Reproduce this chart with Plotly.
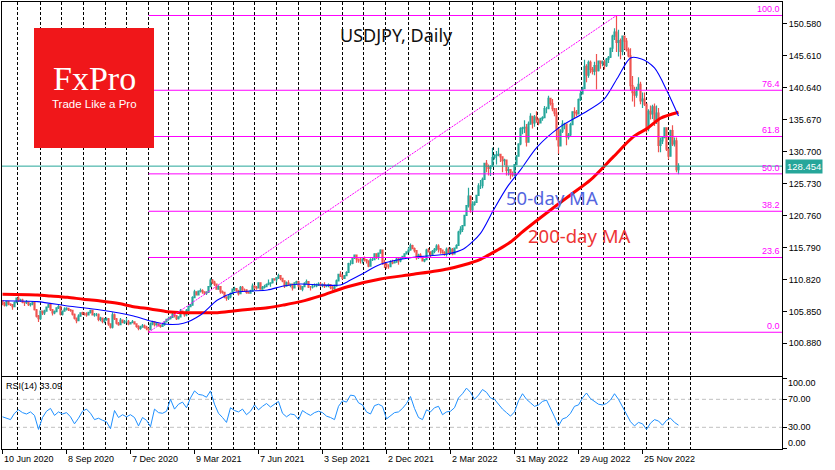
import numpy as np
import pandas as pd
import plotly.graph_objects as go

W, H = 835, 470

# ------------------------------------------------------------------ data
SYMBOL_TITLE = "USDJPY, Daily"
FIRST_OPEN = 107.5
BAR_STEP = 2          # trading days per drawn candle
LAST_PRICE = 128.454

CLOSE = [
    # Jun 2020
    107.1, 106.8, 107.4, 107.0, 106.9, 106.6, 107.2, 107.9,
    # Jul
    107.5, 107.6, 107.3, 107.2, 107.3, 106.9, 107.0, 107.2, 106.1, 105.1, 104.7,
    # Aug
    105.9, 105.6, 105.9, 106.5, 106.9, 106.1, 105.6, 105.8, 106.4, 106.6, 105.4,
    # Sep
    105.9, 106.2, 106.3, 106.1, 106.0, 105.4, 104.8, 104.4, 105.1, 105.6, 105.5,
    # Oct
    105.5, 105.3, 105.7, 106.0, 105.3, 105.4, 105.4, 104.6, 104.8, 104.3, 104.6,
    # Nov
    104.7, 103.9, 103.4, 105.3, 104.7, 104.0, 103.8, 104.5, 104.1, 104.3,
    # Dec
    104.3, 103.9, 104.1, 104.2, 103.9, 103.5, 103.2, 103.4, 103.6, 103.4, 103.2,
    # Jan 2021
    103.0, 103.9, 104.2, 103.8, 103.9, 103.6, 103.5, 103.8, 104.2, 104.6, 104.7,
    # Feb
    104.9, 105.4, 105.2, 104.7, 105.0, 105.9, 105.7, 105.3, 106.0, 106.6,
    # Mar
    106.8, 108.0, 108.9, 108.4, 109.0, 109.1, 108.9, 108.7, 108.8, 109.7, 110.7,
    # Apr
    110.4, 110.1, 109.3, 109.7, 108.9, 108.8, 108.1, 107.9, 108.1, 108.6, 109.3,
    # May
    109.4, 109.1, 108.6, 109.6, 109.2, 109.2, 108.8, 108.7, 109.0, 109.8, 109.6,
    # Jun
    109.5, 110.3, 109.3, 109.6, 109.7, 110.0, 110.2, 110.3, 110.9, 110.8, 111.1,
    # Jul
    111.4, 111.0, 110.6, 109.8, 110.3, 109.9, 110.1, 109.5, 110.3, 110.5, 109.8,
    # Aug
    109.3, 109.7, 110.2, 110.5, 109.6, 109.6, 109.8, 109.8, 110.0, 110.1, 109.9,
    # Sep
    110.0, 109.8, 109.9, 110.0, 109.6, 109.4, 109.8, 110.6, 111.6, 111.3,
    # Oct
    111.0, 111.4, 111.9, 113.3, 113.3, 114.2, 114.6, 114.0, 113.7, 113.7, 114.0,
    # Nov
    113.9, 113.7, 112.9, 113.9, 113.9, 114.8, 114.3, 114.9, 115.4, 113.4, 113.2,
    # Dec
    112.8, 112.8, 113.5, 113.4, 113.5, 114.0, 113.7, 114.1, 114.4, 114.8, 115.1,
    # Jan 2022
    115.4, 116.1, 115.6, 115.3, 114.2, 114.6, 114.3, 113.7, 113.9, 115.4, 115.1,
    # Feb
    114.7, 115.2, 115.5, 116.0, 115.6, 115.4, 115.0, 114.8, 115.5, 115.0,
    # Mar
    115.5, 114.8, 115.7, 116.1, 118.2, 118.6, 119.2, 120.8, 122.3, 123.8, 121.7,
    # Apr
    122.5, 122.8, 123.9, 125.4, 125.4, 126.4, 128.9, 128.4, 128.1, 128.4, 129.8,
    # May
    130.1, 130.2, 130.3, 129.9, 129.3, 129.4, 127.8, 127.9, 127.2, 127.1, 128.7,
    # Jun
    130.0, 131.9, 134.3, 134.4, 134.5, 132.2, 135.0, 136.2, 135.2, 136.1, 135.7,
    # Jul
    135.2, 135.9, 136.0, 137.4, 137.4, 139.0, 138.2, 137.4, 136.7, 134.2,
    # Aug
    131.6, 133.9, 135.0, 135.0, 133.0, 133.3, 134.9, 136.9, 136.8, 136.6, 138.8,
    # Sep
    139.7, 140.5, 144.0, 142.6, 144.6, 143.5, 143.2, 144.1, 143.3, 144.8, 144.5, 144.7,
    # Oct
    144.1, 145.1, 145.4, 146.8, 148.7, 149.3, 147.7, 148.0, 146.3, 148.7,
    # Nov
    147.9, 146.6, 145.6, 141.0, 139.9, 139.5, 140.4, 141.2, 138.6, 138.9, 138.1,
    # Dec
    134.3, 137.0, 136.6, 137.7, 135.5, 136.7, 131.7, 132.4, 132.9, 134.4, 131.1,
    # Jan 2023
    130.0, 134.0, 131.9, 132.4, 127.9, 128.454,
]

HIGH = [
    107.6, 107.3, 107.5, 107.5, 107.1, 107.0, 107.4, 108.0,
    108.2, 107.8, 107.8, 107.4, 107.6, 107.4, 107.2, 107.4, 107.2, 106.2, 105.3,
    106.0, 106.0, 106.1, 106.6, 107.0, 106.9, 106.2, 106.0, 106.5, 106.9, 106.7,
    106.0, 106.5, 106.5, 106.4, 106.2, 106.0, 105.5, 104.9, 105.4, 105.7, 105.8,
    105.7, 105.7, 105.8, 106.1, 106.0, 105.6, 105.6, 105.5, 105.0, 104.9, 104.8,
    104.9, 104.8, 103.9, 105.7, 105.5, 104.8, 104.2, 104.8, 104.6, 104.5,
    104.8, 104.5, 104.2, 104.5, 104.3, 104.0, 103.7, 103.6, 103.9, 103.8, 103.6,
    103.3, 104.1, 104.4, 104.3, 104.1, 104.0, 103.8, 103.9, 104.3, 104.7, 105.0,
    105.1, 105.6, 105.7, 105.3, 105.1, 106.2, 106.0, 105.8, 106.2, 106.7,
    107.0, 108.2, 109.2, 109.0, 109.1, 109.4, 109.3, 109.0, 109.0, 109.8, 111.0,
    110.9, 110.6, 110.2, 109.9, 109.8, 109.1, 108.9, 108.2, 108.4, 108.8, 109.4,
    109.7, 109.4, 109.2, 109.8, 109.8, 109.4, 109.3, 109.0, 109.2, 110.2, 109.9,
    109.8, 110.4, 110.3, 109.8, 110.0, 110.2, 110.8, 110.4, 111.0, 111.0, 111.2,
    111.7, 111.4, 111.1, 110.7, 110.5, 110.7, 110.2, 110.1, 110.4, 110.6, 110.6,
    109.9, 109.8, 110.4, 110.8, 110.5, 109.8, 110.0, 110.2, 110.2, 110.4, 110.4,
    110.2, 110.4, 110.0, 110.2, 110.1, 109.8, 110.0, 110.8, 111.7, 112.1,
    111.6, 111.5, 112.1, 113.4, 113.8, 114.3, 114.7, 114.7, 114.0, 114.3, 114.1,
    114.4, 114.0, 113.6, 114.1, 114.2, 114.9, 114.8, 115.0, 115.5, 115.3, 113.9,
    113.4, 113.2, 113.8, 113.9, 113.7, 114.2, 114.3, 114.3, 114.5, 114.9, 115.2,
    115.8, 116.4, 116.2, 115.8, 115.1, 114.8, 114.9, 114.4, 114.0, 115.6, 115.7,
    115.2, 115.4, 115.7, 116.3, 116.3, 115.7, 115.4, 115.2, 115.8, 115.8,
    115.8, 115.7, 115.8, 116.3, 118.4, 119.1, 119.3, 120.9, 122.4, 125.1, 123.9,
    123.0, 123.0, 124.0, 125.8, 126.3, 126.7, 129.0, 129.4, 128.7, 128.6, 131.3,
    130.3, 130.8, 131.3, 130.4, 130.0, 129.6, 129.4, 128.3, 127.9, 127.6, 128.8,
    130.2, 132.0, 134.5, 134.6, 135.6, 135.0, 135.4, 136.7, 136.3, 136.4, 137.0,
    135.9, 136.0, 136.2, 137.8, 137.7, 139.4, 138.9, 138.9, 137.5, 137.5,
    133.3, 134.2, 135.6, 135.2, 135.0, 133.6, 135.2, 137.0, 137.6, 137.2, 139.0,
    140.2, 140.8, 145.0, 144.3, 144.9, 144.9, 143.9, 144.7, 145.9, 144.9, 144.8, 144.9,
    145.0, 145.3, 145.6, 146.9, 148.9, 149.9, 151.9, 149.7, 148.3, 148.8,
    148.8, 148.4, 146.9, 146.8, 142.5, 140.8, 140.8, 142.3, 141.6, 139.9, 139.9,
    136.9, 137.3, 137.9, 138.0, 138.2, 137.9, 137.5, 132.9, 133.0, 134.5, 134.0,
    131.2, 134.1, 134.8, 132.9, 132.9, 128.9,
]

LOW = [
    106.8, 106.6, 106.6, 106.8, 106.7, 106.1, 106.5, 107.1,
    107.3, 107.3, 107.1, 106.7, 107.0, 106.7, 106.6, 106.8, 106.0, 104.9, 104.2,
    104.5, 105.3, 105.3, 105.8, 106.4, 105.9, 105.2, 105.4, 105.7, 106.2, 105.2,
    105.2, 105.8, 106.0, 105.9, 105.8, 105.2, 104.6, 104.0, 104.3, 105.0, 105.3,
    105.2, 105.0, 105.2, 105.5, 105.2, 105.0, 105.1, 104.3, 104.3, 104.0, 104.0,
    104.4, 103.6, 103.2, 103.2, 104.5, 103.8, 103.6, 103.7, 104.0, 103.9,
    104.1, 103.7, 103.8, 104.0, 103.8, 103.3, 102.9, 103.0, 103.3, 103.2, 102.9,
    102.6, 102.9, 103.7, 103.5, 103.6, 103.5, 103.3, 103.4, 103.6, 104.1, 104.4,
    104.6, 104.9, 104.9, 104.5, 104.6, 104.9, 105.5, 105.0, 105.1, 105.9,
    106.5, 106.8, 108.0, 108.3, 108.3, 108.8, 108.6, 108.4, 108.4, 108.7, 109.7,
    110.1, 109.8, 109.2, 109.3, 108.6, 108.6, 107.9, 107.5, 107.6, 107.9, 108.5,
    109.0, 108.9, 108.3, 108.5, 109.0, 108.9, 108.6, 108.6, 108.7, 109.0, 109.3,
    109.2, 109.4, 109.2, 109.2, 109.4, 109.6, 109.9, 109.7, 110.2, 110.6, 110.4,
    110.9, 110.7, 110.4, 109.5, 109.7, 109.8, 109.6, 109.1, 109.4, 110.0, 109.6,
    109.2, 109.0, 109.6, 110.2, 109.5, 109.1, 109.4, 109.6, 109.6, 109.8, 109.7,
    109.6, 109.5, 109.6, 109.6, 109.3, 109.1, 109.2, 109.7, 110.5, 111.2,
    110.8, 110.9, 111.3, 111.9, 113.0, 113.2, 114.0, 113.4, 113.4, 113.3, 113.3,
    113.6, 113.3, 112.7, 112.9, 113.7, 113.9, 114.0, 113.9, 114.8, 113.1, 112.6,
    112.5, 112.5, 112.8, 113.2, 113.3, 113.5, 113.1, 113.5, 114.0, 114.3, 114.8,
    115.0, 115.3, 115.5, 115.0, 113.9, 114.0, 114.1, 113.6, 113.5, 113.8, 115.0,
    114.2, 114.5, 114.9, 115.3, 115.0, 114.8, 114.8, 114.5, 114.4, 114.8,
    114.7, 114.6, 114.8, 115.6, 116.5, 117.8, 118.2, 119.1, 120.7, 122.0, 121.2,
    121.3, 122.3, 122.9, 123.8, 124.9, 125.0, 126.6, 127.5, 127.0, 126.9, 128.4,
    129.5, 128.7, 130.0, 129.1, 127.5, 128.6, 127.0, 127.0, 126.4, 126.8, 126.9,
    128.6, 129.9, 131.7, 133.4, 133.6, 131.5, 134.3, 134.9, 134.3, 134.6, 135.2,
    134.8, 135.3, 135.5, 135.9, 136.7, 137.3, 137.9, 137.0, 136.2, 132.5,
    130.4, 131.8, 133.6, 134.2, 131.7, 132.6, 133.1, 134.8, 135.8, 136.2, 136.9,
    138.6, 139.7, 140.6, 141.5, 142.2, 142.9, 142.7, 142.6, 140.4, 143.2, 143.6, 144.0,
    143.5, 143.9, 144.5, 145.3, 146.2, 148.1, 146.2, 145.5, 145.1, 145.7,
    146.6, 146.3, 145.4, 140.2, 138.5, 137.7, 139.1, 140.3, 138.1, 137.5, 137.8,
    133.6, 133.9, 135.7, 135.8, 134.7, 135.0, 130.6, 130.6, 131.9, 132.8, 130.8,
    129.5, 129.9, 131.6, 131.5, 127.5, 127.2,
]

# moving averages (bar index, value)
MA50_IDX = [0, 35, 65, 98, 131, 148, 165, 181, 198, 215, 231, 248, 265, 281, 298, 318, 338,
            345, 361, 378, 411, 445, 461, 478, 491, 505, 518, 535, 558, 581, 601, 615, 628,
            639, 652, 665, 676]
MA50 = [107.51, 107.36, 106.69, 106.07, 105.13, 104.35, 103.84, 104.00, 105.29, 107.62,
        108.76, 109.02, 109.18, 109.80, 110.11, 109.96, 109.96, 110.47, 111.78, 113.18,
        114.27, 114.78, 115.56, 118.00, 121.63, 125.26, 127.86, 131.48, 134.60, 136.68,
        138.75, 142.18, 145.29, 145.13, 143.73, 140.00, 136.26]
MA200_IDX = [0, 35, 48, 65, 81, 98, 115, 131, 148, 165, 181, 198, 215, 231, 248, 265, 281,
             298, 318, 345, 378, 411, 445, 461, 478, 495, 508, 521, 548, 568, 588, 611, 631,
             645, 658, 676]
MA200 = [108.51, 108.40, 108.25, 108.04, 107.73, 107.47, 107.11, 106.58, 106.22, 105.80,
         105.65, 105.65, 105.65, 105.91, 106.18, 106.42, 106.84, 107.36, 108.25, 109.69,
         110.89, 111.62, 112.45, 113.07, 113.96, 115.40, 116.65, 118.36, 121.63, 123.97,
         126.30, 129.93, 133.04, 134.35, 135.91, 136.84]

RSI_STEP = 4
RSI = [
    45, 43, 41, 50, 55, 51, 49, 52, 47, 27,
    44, 53, 57, 47, 52, 49, 51, 45, 35, 43,
    53, 56, 50, 41, 43, 40, 38, 28, 54, 44,
    48, 45, 48, 44, 32, 44, 40, 31, 56, 51,
    50, 53, 70, 56, 63, 66, 58, 72, 82, 77,
    76, 73, 82, 63, 50, 44, 37, 58, 54, 52,
    56, 48, 53, 62, 55, 60, 64, 59, 63, 67,
    50, 45, 49, 48, 41, 54, 50, 47, 51, 53,
    51, 46, 44, 41, 60, 68, 66, 76, 75, 65,
    62, 52, 49, 61, 63, 60, 42, 47, 51, 52,
    57, 64, 74, 57, 44, 41, 55, 52, 58, 60,
    48, 52, 53, 58, 72, 78, 86, 80, 70, 76,
    84, 80, 72, 70, 63, 56, 51, 46, 52, 68,
    78, 70, 65, 60, 62, 67, 69, 58, 45, 32,
    42, 44, 50, 60, 62, 72, 79, 71, 67, 63,
    62, 64, 69, 78, 70, 60, 50, 38, 32, 37,
    35, 27, 36, 41, 39, 33, 40, 43, 37, 33.09,
]
RSI_LAST = 33.09

PRICE_TICKS = [150.58, 145.61, 140.64, 135.67, 130.70, 125.73, 120.76, 115.79,
               110.82, 105.85, 100.88]
RSI_TICKS = [100, 70, 30, 0]
RSI_LEVELS = [70, 30]
DATE_TICK_IDX = [0, 64, 128, 192, 256, 320, 384, 448, 512, 576, 640]
DATE_LABELS = ["10 Jun 2020", "8 Sep 2020", "7 Dec 2020", "9 Mar 2021", "7 Jun 2021",
               "3 Sep 2021", "2 Dec 2021", "2 Mar 2022", "31 May 2022", "29 Aug 2022",
               "25 Nov 2022"]
FIB_LEVELS = [0.0, 23.6, 38.2, 50.0, 61.8, 76.4, 100.0]

# ------------------------------------------------------------------ styles
UP = "#26A69A"
DN = "#EF5350"
MAG = "#FF00FF"
BID = "#26A69A"
FONT = "Liberation Sans, Arial, sans-serif"
FONT2 = "Noto Sans, Liberation Sans, sans-serif"

XR = [-0.5, 779.5]
YR = [95.79, 154.0]
RR = [-1.0, 101.9]
XDOM = [2 / W, 782 / W]
YDOM_MAIN = [1 - 376 / H, 1 - 2 / H]
YDOM_RSI = [1 - 449 / H, 1 - 377 / H]


def px(x):
    return x / W


def py(y):
    return 1 - y / H


# ------------------------------------------------------------------ derived
n = min(len(CLOSE), len(HIGH), len(LOW))
xs = [i * BAR_STEP for i in range(n)]
opens = [FIRST_OPEN] + CLOSE[:n - 1]
highs = [max(HIGH[i], opens[i], CLOSE[i]) for i in range(n)]
lows = [min(LOW[i], opens[i], CLOSE[i]) for i in range(n)]

lo_i = int(np.argmin(lows))
hi_i = int(np.argmax(highs))
fib_lo, fib_hi = lows[lo_i], highs[hi_i]
lo_x, hi_x = xs[lo_i], xs[hi_i]

# monthly vertical grid (first trading day of each month)
days = pd.bdate_range("2020-06-10", "2023-02-28")
mask = ~(((days.month == 12) & (days.day == 25)) | ((days.month == 1) & (days.day == 1)))
days = days[mask]
ser = pd.Series(np.arange(len(days)), index=days)
month_idx = [int(v) for v in ser.groupby([days.year, days.month]).min().values[1:]]

# ------------------------------------------------------------------ figure
fig = go.Figure()

fig.add_trace(go.Candlestick(
    x=xs, open=opens, high=highs, low=lows, close=CLOSE[:n],
    increasing=dict(line=dict(color=UP, width=1.2), fillcolor=UP),
    decreasing=dict(line=dict(color=DN, width=1.2), fillcolor=DN),
    whiskerwidth=0, xaxis="x", yaxis="y", hoverinfo="skip", showlegend=False))

fig.add_trace(go.Scatter(
    x=MA200_IDX, y=MA200, mode="lines", line=dict(color="#FF0000", width=3, shape="spline", smoothing=0.8),
    xaxis="x", yaxis="y", hoverinfo="skip", showlegend=False))
fig.add_trace(go.Scatter(
    x=MA50_IDX, y=MA50, mode="lines", line=dict(color="#0000FF", width=1.1, shape="spline", smoothing=0.8),
    xaxis="x", yaxis="y", hoverinfo="skip", showlegend=False))

fig.add_trace(go.Scatter(
    x=[i * RSI_STEP for i in range(len(RSI))], y=RSI, mode="lines",
    line=dict(color="#1E90FF", width=1), xaxis="x2", yaxis="y2",
    hoverinfo="skip", showlegend=False))

shapes = []
# RSI levels
for lv in RSI_LEVELS:
    shapes.append(dict(type="line", xref="x2 domain", yref="y2", x0=0, x1=1, y0=lv, y1=lv,
                       line=dict(color="#C0C0C0", width=1, dash="4px,3px"), layer="below"))
# bid line
shapes.append(dict(type="line", xref="x", yref="y", x0=XR[0], x1=XR[1], y0=LAST_PRICE,
                   y1=LAST_PRICE, line=dict(color=BID, width=1)))
# fibonacci
for lv in FIB_LEVELS:
    yv = fib_lo + (fib_hi - fib_lo) * lv / 100.0
    shapes.append(dict(type="line", xref="x", yref="y", x0=lo_x, x1=XR[1], y0=yv, y1=yv,
                       line=dict(color=MAG, width=1)))
shapes.append(dict(type="line", xref="x", yref="y", x0=lo_x, x1=hi_x, y0=fib_lo, y1=fib_hi,
                   line=dict(color=MAG, width=1, dash="2px,1px")))
# logo
shapes.append(dict(type="rect", xref="paper", yref="paper", x0=px(34), x1=px(154),
                   y0=py(148), y1=py(28), fillcolor="#F0171A", line=dict(width=0)))

ann = []
for lv in FIB_LEVELS:
    yv = fib_lo + (fib_hi - fib_lo) * lv / 100.0
    ann.append(dict(text=f"{lv:.1f}", xref="paper", yref="y", x=px(781), y=yv,
                    xanchor="right", yanchor="bottom", showarrow=False, borderpad=0,
                    font=dict(family=FONT, size=9, color=MAG)))
ann.append(dict(text=f"{LAST_PRICE:.3f}", xref="paper", yref="y", x=px(785), y=LAST_PRICE,
                xanchor="left", yanchor="middle", showarrow=False, bgcolor=BID, borderpad=1,
                font=dict(family=FONT, size=9.5, color="white")))
ann.append(dict(text=SYMBOL_TITLE, xref="paper", yref="paper", x=px(396.5), y=py(34.5),
                xanchor="center", yanchor="middle", showarrow=False,
                font=dict(family=FONT2, size=18, color="#111111")))
ann.append(dict(text="50-day MA", xref="paper", yref="paper", x=px(504), y=py(197),
                xanchor="left", yanchor="middle", showarrow=False,
                font=dict(family=FONT2, size=18.5, color="#5566E0")))
ann.append(dict(text="200-day MA", xref="paper", yref="paper", x=px(526), y=py(235),
                xanchor="left", yanchor="middle", showarrow=False,
                font=dict(family=FONT2, size=18.5, color="#EE3535")))
ann.append(dict(text="FxPro", xref="paper", yref="paper", x=px(94), y=py(78),
                xanchor="center", yanchor="middle", showarrow=False, borderpad=0,
                font=dict(family="Liberation Serif, DejaVu Serif, serif", size=34, color="white")))
ann.append(dict(text="Trade Like a Pro", xref="paper", yref="paper", x=px(94), y=py(104),
                xanchor="center", yanchor="middle", showarrow=False, borderpad=0,
                font=dict(family=FONT, size=11.5, color="white")))
ann.append(dict(text=f"RSI(14) {RSI_LAST:.2f}", xref="paper", yref="paper", x=px(4), y=py(386),
                xanchor="left", yanchor="middle", showarrow=False,
                font=dict(family=FONT, size=9, color="black")))
rsi_label_y = {100: 382.7, 70: 399.3, 30: 427.3, 0: 443.3}
for t in RSI_TICKS:
    ann.append(dict(text=f"{t:.2f}", xref="paper", yref="paper", x=px(787), y=py(rsi_label_y[t]),
                    xanchor="left", yanchor="middle", showarrow=False, borderpad=0,
                    font=dict(family=FONT, size=9, color="black")))
for xi, lab in zip(DATE_TICK_IDX, DATE_LABELS):
    ann.append(dict(text=lab, xref="x2", yref="paper", x=xi, y=py(458.5),
                    xanchor="left", yanchor="middle", showarrow=False, borderpad=0,
                    font=dict(family=FONT, size=9, color="black")))

minor = dict(tickmode="array", tickvals=month_idx, showgrid=True, gridcolor="black",
             gridwidth=1, griddash="3px,2px", ticks="")
axis_common = dict(showline=True, linecolor="black", linewidth=1, mirror=True,
                   zeroline=False, automargin=False)

fig.update_layout(
    width=W, height=H, margin=dict(l=0, r=0, t=0, b=0),
    paper_bgcolor="white", plot_bgcolor="white", showlegend=False,
    xaxis=dict(domain=XDOM, range=XR, anchor="y", tickmode="array", tickvals=DATE_TICK_IDX,
               showticklabels=False, ticks="", showgrid=False, minor=minor,
               rangeslider=dict(visible=False), **axis_common),
    yaxis=dict(domain=YDOM_MAIN, range=YR, anchor="x", side="right", tickmode="array",
               tickvals=PRICE_TICKS, ticktext=[f"{v:.3f}" for v in PRICE_TICKS],
               ticks="outside", ticklen=4, tickcolor="black", showgrid=False,
               tickfont=dict(family=FONT, size=9, color="black"), **axis_common),
    xaxis2=dict(domain=XDOM, range=XR, anchor="y2", tickmode="array", tickvals=DATE_TICK_IDX,
                showticklabels=False, ticks="outside", ticklen=4, tickcolor="black",
                showgrid=False, minor=minor, **axis_common),
    yaxis2=dict(domain=YDOM_RSI, range=RR, anchor="x2", side="right", tickmode="array",
                tickvals=RSI_TICKS, showticklabels=False, ticks="outside", ticklen=4,
                tickcolor="black", showgrid=False, **axis_common),
    shapes=shapes, annotations=ann,
)

fig.write_html("out.html", config={"displayModeBar": False},
               post_script="document.body.style.margin='0px';document.body.style.overflow='hidden';")
